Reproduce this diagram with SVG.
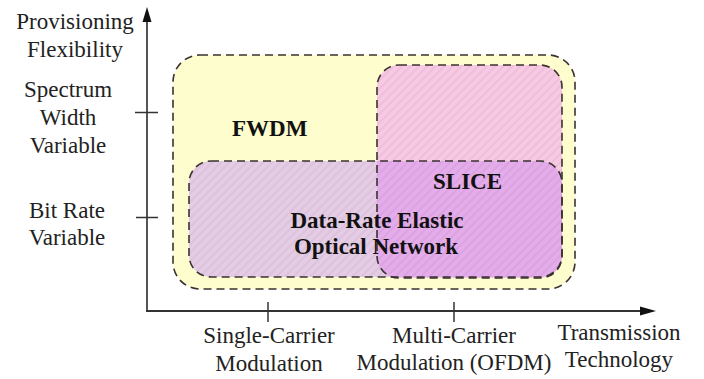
<svg xmlns="http://www.w3.org/2000/svg" width="704" height="379" viewBox="0 0 704 379">
<style>
text{font-size:23px;fill:#222}
.b{font-weight:bold;fill:#111}
.m{text-anchor:middle}
.dash{fill:none;stroke:#3a3232;stroke-width:1.6;stroke-dasharray:8 5}
.ax{stroke:#555;stroke-width:2;fill:none}
.tk{stroke:#333;stroke-width:1.5}
</style>
<defs>
<pattern id="hp" width="6" height="6" patternUnits="userSpaceOnUse" patternTransform="rotate(45)">
<rect width="6" height="6" fill="#F6CAE3"/><line x1="1" y1="0" x2="1" y2="6" stroke="#ECB6D6" stroke-width="1.2"/>
</pattern>
<pattern id="hl" width="6" height="6" patternUnits="userSpaceOnUse" patternTransform="rotate(45)">
<rect width="6" height="6" fill="#E4CCE4"/><line x1="1" y1="0" x2="1" y2="6" stroke="#D8BCD8" stroke-width="1.2"/>
</pattern>
<pattern id="hm" width="6" height="6" patternUnits="userSpaceOnUse" patternTransform="rotate(45)">
<rect width="6" height="6" fill="#E4ADEA"/><line x1="1" y1="0" x2="1" y2="6" stroke="#D89DDF" stroke-width="1.2"/>
</pattern>
<clipPath id="cp"><rect x="377" y="65" width="185" height="213" rx="22"/></clipPath>
</defs>
<rect width="704" height="379" fill="#fff"/>
<g id="connectors">
<line class="ax" x1="147" y1="311" x2="147" y2="21"/>
<path d="M142.5,22 L147,7 L151.5,22 Z" fill="#111"/>
<line class="ax" x1="146" y1="311" x2="641" y2="311" style="stroke:#333"/>
<path d="M640,306.5 L656,311 L640,315.5 Z" fill="#111"/>
<line class="tk" x1="135" y1="112.5" x2="158" y2="112.5"/>
<line class="tk" x1="136" y1="217.5" x2="158" y2="217.5"/>
<line class="tk" x1="268" y1="302" x2="268" y2="322"/>
<line class="tk" x1="454" y1="302" x2="454" y2="322"/>
</g>
<g id="fwdm">
<rect x="173" y="55" width="402" height="234" rx="27" fill="#FEFDCD"/>
</g>
<g id="slice">
<rect x="377" y="65" width="185" height="213" rx="22" fill="url(#hp)"/>
</g>
<g id="dren">
<rect x="189" y="161" width="373" height="116" rx="22" fill="url(#hl)"/>
<rect x="189" y="161" width="373" height="116" rx="22" fill="url(#hm)" clip-path="url(#cp)"/>
</g>
<g id="outlines">
<rect class="dash" x="173" y="55" width="402" height="234" rx="27"/>
<rect class="dash" x="377" y="65" width="185" height="213" rx="22"/>
<rect class="dash" x="189" y="161" width="373" height="116" rx="22"/>
</g>
<g id="labels" font-family="Liberation Serif, Tinos, Times New Roman, DejaVu Serif, serif">
<text class="b" x="232" y="136">FWDM</text>
<text class="b" x="433" y="189">SLICE</text>
<text class="b m" x="377" y="228">Data-Rate Elastic</text>
<text class="b m" x="376" y="254">Optical Network</text>
<text class="m" x="75" y="29">Provisioning</text>
<text class="m" x="75" y="57">Flexibility</text>
<text class="m" x="68" y="97">Spectrum</text>
<text class="m" x="68" y="125">Width</text>
<text class="m" x="68" y="153">Variable</text>
<text class="m" x="67" y="218">Bit Rate</text>
<text class="m" x="67" y="245">Variable</text>
<text class="m" x="269" y="343">Single-Carrier</text>
<text class="m" x="269" y="371">Modulation</text>
<text class="m" x="454" y="343">Multi-Carrier</text>
<text class="m" x="454" y="370">Modulation (OFDM)</text>
<text class="m" x="619" y="340">Transmission</text>
<text class="m" x="619" y="367">Technology</text>
</g>
</svg>
